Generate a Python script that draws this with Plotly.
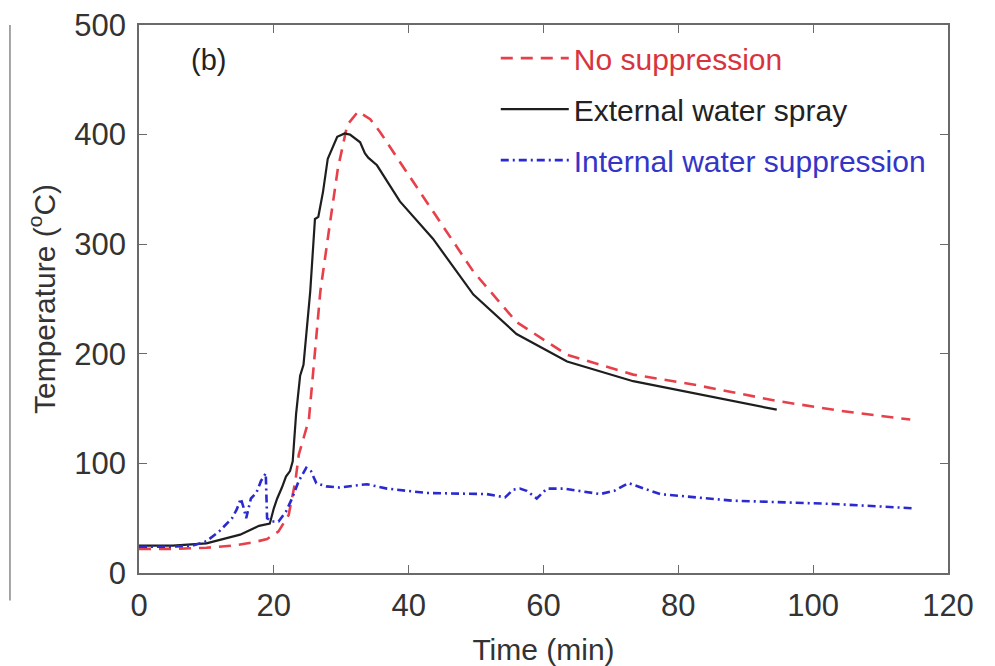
import plotly.graph_objects as go

# No suppression (red dashed)
t_no = [0, 5, 10, 14, 17, 19, 20.7, 22.2, 23.2, 23.7, 24.5, 25.2, 25.8, 26.9, 28.3, 29.5, 30.9, 32.5, 34.3, 35.8, 38.7, 43.6, 49.6, 56, 63.5, 73.3, 82.2, 94.6, 104, 114.4]
T_no = [22, 22, 23, 25, 28, 31, 38, 53, 84, 108, 125, 140, 181, 257, 318, 369, 409, 421, 414, 402, 375, 330, 275, 229, 199, 181, 172, 157, 148, 140]

# External water spray (black solid)
t_ext = [0, 5, 10, 15, 17.8, 19.4, 20, 20.5, 21.2, 21.8, 22.4, 22.8, 23.3, 23.9, 24.4, 25.4, 26.1, 26.6, 27.3, 28, 29.4, 30.5, 31.3, 32.8, 33.5, 34, 35.3, 38.7, 43.6, 49.6, 56, 63.5, 73.3, 82.2, 94.6]
T_ext = [25, 25, 27, 35, 43, 45, 59, 68, 78, 88, 93, 102, 145, 180, 190, 257, 323, 325, 348, 378, 398, 401, 400, 393, 383, 379, 372, 339, 305, 254, 218, 193, 175, 164, 149]

# Internal water suppression (blue dash-dot)
t_int = [0, 5, 8, 10, 11.9, 13.8, 14.5, 15.1, 15.5, 15.9, 16.6, 17.4, 18.1, 18.8, 19.0, 19.7, 20.7, 21.8, 22.7, 23.7, 24.8, 25.5, 26.3, 27.8, 29.7, 33.8, 36.8, 42.7, 51.6, 54.3, 55.5, 56.5, 57.5, 59, 60.5, 63, 68.4, 70.5, 72.6, 75, 77.3, 88, 103, 115]
T_int = [24, 24, 25, 29, 38, 50, 58, 68, 60, 50, 68, 73, 84, 91, 50, 47, 47, 56, 68, 84, 96, 93, 82, 79, 78, 81, 77, 73, 72, 69, 76, 77, 75, 68, 77, 77, 72, 75, 82, 77, 72, 66, 63, 59]

x_ticks = [0, 20, 40, 60, 80, 100, 120]
y_ticks = [0, 100, 200, 300, 400, 500]

RED = "#e8404a"
BLUE = "#2a2ad0"
BLACK = "#1e1e1e"

fig = go.Figure()
fig.add_trace(go.Scatter(
    x=t_no, y=T_no, mode="lines", legendgroup="a",
    name="<span style='color:#d8343e'>No suppression</span>",
    line=dict(color=RED, width=2.6, dash="12px,8px"),
))
fig.add_trace(go.Scatter(
    x=t_ext, y=T_ext, mode="lines", legendgroup="b",
    name="<span style='color:#222222'>External water spray</span>",
    line=dict(color=BLACK, width=2.2),
))
fig.add_trace(go.Scatter(
    x=t_int, y=T_int, mode="lines", legendgroup="c",
    name="<span style='color:#3434c8'>Internal water suppression</span>",
    line=dict(color=BLUE, width=2.6, dash="8px,4px,2px,4px"),
))

axis_common = dict(
    showline=True, linecolor="#6a6a6a", linewidth=1.6, mirror="ticks",
    ticks="inside", ticklen=8, tickcolor="#6a6a6a", tickwidth=1.4,
    showgrid=False, zeroline=False, automargin=False, ticklabeloverflow="allow",
    tickfont=dict(family="Liberation Sans, Arial", size=31, color="#333333"),
)

fig.update_layout(
    width=995, height=666,
    paper_bgcolor="white", plot_bgcolor="white",
    margin=dict(l=131, r=55, t=17, b=101),
    font=dict(family="Liberation Sans, Arial", color="#333333"),
    xaxis=dict(range=[0, 120], tickvals=x_ticks, ticklabelstandoff=4,
               title=dict(text="Time (min)", font=dict(size=30, color="#333333"), standoff=17),
               **axis_common),
    yaxis=dict(range=[0, 500], tickvals=y_ticks, ticklabelstandoff=5,
               title=dict(text="Temperature (<sup>o</sup>C)", font=dict(size=30, color="#333333"), standoff=10),
               **axis_common),
    legend=dict(x=0.441, y=0.987, xanchor="left", yanchor="top",
                bgcolor="rgba(0,0,0,0)", itemwidth=68, tracegroupgap=9,
                font=dict(family="Liberation Sans, Arial", size=30)),
    showlegend=True,
    annotations=[dict(x=0.062, y=0.937, xref="paper", yref="paper", text="(b)",
                      showarrow=False, xanchor="left", yanchor="middle",
                      font=dict(size=29, color="#222222"))],
    shapes=[dict(type="line", xref="paper", yref="paper", x0=-0.1595, x1=-0.1595,
                 y0=-0.05, y1=1.0, line=dict(color="#888888", width=1.5))],
)

fig.write_html("out.html")
